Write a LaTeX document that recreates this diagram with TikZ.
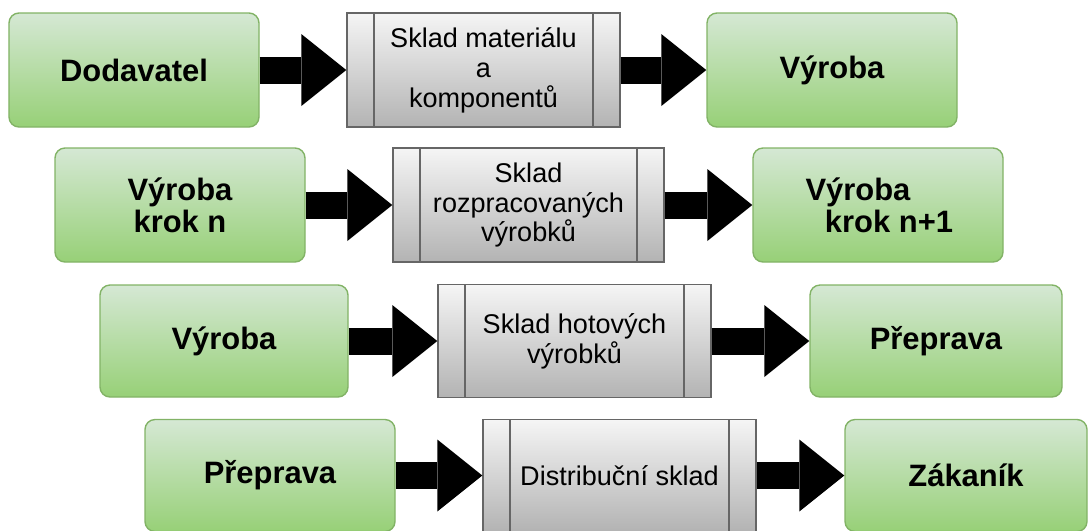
\documentclass[tikz,border=0pt]{standalone}
\usepackage{fontspec}
\setmainfont{Liberation Sans}
\usetikzlibrary{arrows.meta}
\definecolor{zelenaH}{HTML}{D5E8D4}
\definecolor{zelenaD}{HTML}{97D077}
\definecolor{zelenaR}{HTML}{82B366}
\definecolor{sedaH}{HTML}{F5F5F5}
\definecolor{sedaD}{HTML}{B3B3B3}
\definecolor{sedaR}{HTML}{666666}
\tikzset{
  krok/.style={draw=zelenaR, top color=zelenaH, bottom color=zelenaD, rounded corners=0.1cm, minimum width=2.5cm, minimum height=1.14cm, inner sep=0pt, align=center, text=black, font=\fontsize{8.8}{9.2}\selectfont\bfseries},
  sklad/.style={draw=sedaR, top color=sedaH, bottom color=sedaD, minimum width=2.73cm, minimum height=1.14cm, inner sep=0pt, align=center, text=black, font=\fontsize{7.7}{8.5}\selectfont,
    path picture={\draw[sedaR] ([xshift=0.27cm]path picture bounding box.north west) -- ([xshift=0.27cm]path picture bounding box.south west);
                  \draw[sedaR] ([xshift=-0.27cm]path picture bounding box.north east) -- ([xshift=-0.27cm]path picture bounding box.south east);}},
  sipka/.style={line width=0.27cm, -{Triangle[length=0.45cm,width=0.72cm,line width=0pt]}}
}
\begin{document}
\begin{tikzpicture}
\useasboundingbox (0,0) rectangle (10.89,5.30);
% prvni rada
\node[krok] (dod) at (1.34,4.60) {Dodavatel};
\node[sklad] (mat) at (4.835,4.60) {Sklad materiálu\\a\\komponentů};
\node[krok] (vyr1) at (8.32,4.60) {Výroba};
% druha rada
\node[krok] (kn) at (1.80,3.25) {Výroba\\krok n};
\node[sklad, minimum width=2.71cm] (roz) at (5.285,3.25) {Sklad\\rozpracovaných\\výrobků};
\node[krok] (kn1) at (8.78,3.25) {Výroba\hspace*{0.4cm}\\\hspace*{0.22cm}krok n+1};
% treti rada
\node[krok, minimum width=2.48cm, minimum height=1.12cm] (vyr3) at (2.24,1.89) {Výroba};
\node[sklad, minimum height=1.13cm] (hot) at (5.745,1.89) {Sklad hotových\\výrobků};
\node[krok, minimum width=2.52cm, minimum height=1.12cm] (pre3) at (9.36,1.89) {Přeprava};
% ctvrta rada
\node[krok, minimum height=1.12cm] (pre4) at (2.70,0.545) {Přeprava};
\node[sklad, minimum height=1.12cm] (dis) at (6.195,0.545) {Distribuční sklad};
\node[krok, minimum width=2.42cm, minimum height=1.12cm] (zak) at (9.66,0.545) {Zákaník};
% sipky
\draw[sipka] (dod.east) -- (mat.west);
\draw[sipka] (mat.east) -- (vyr1.west);
\draw[sipka] (kn.east) -- (roz.west);
\draw[sipka] (roz.east) -- (kn1.west);
\draw[sipka] (vyr3.east) -- (hot.west);
\draw[sipka] (hot.east) -- (pre3.west);
\draw[sipka] (pre4.east) -- (dis.west);
\draw[sipka] (dis.east) -- (zak.west);
\end{tikzpicture}
\end{document}
